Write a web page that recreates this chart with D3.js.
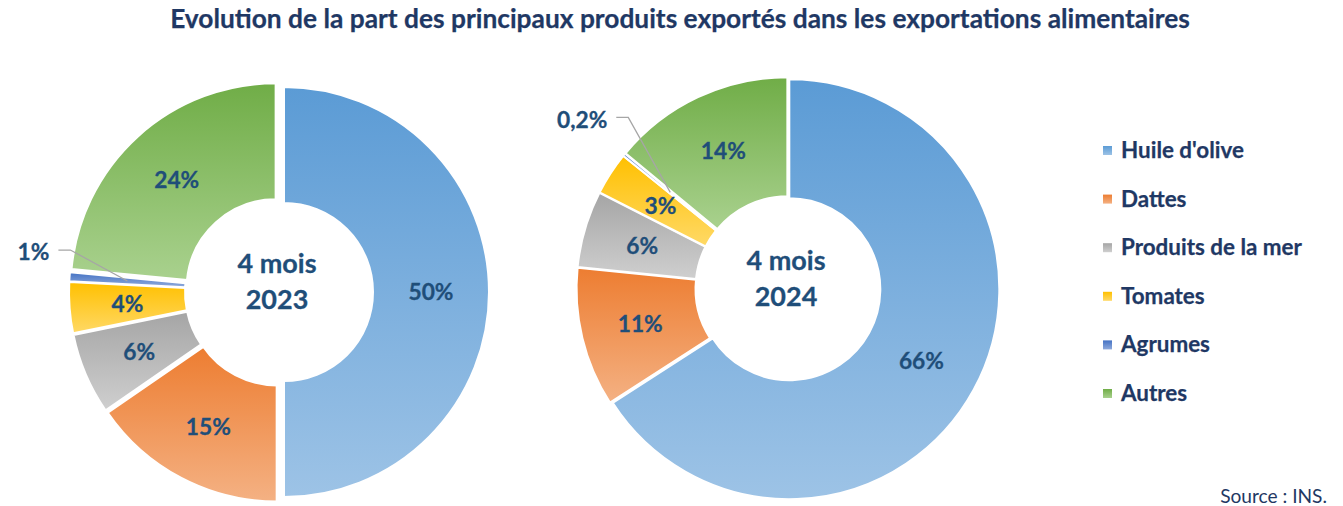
<!DOCTYPE html>
<html><head><meta charset="utf-8">
<script src="https://cdn.jsdelivr.net/npm/d3@7"></script>
<style>
body{margin:0;background:#fff}
svg{display:block}
text{font-family:Lato,"Open Sans","DejaVu Sans",sans-serif}
</style>
</head><body>
<svg id="chart" width="1343" height="506"></svg>
<script>
// ---- data ----
const categories = ["Huile d'olive", "Dattes", "Produits de la mer", "Tomates", "Agrumes", "Autres"];
const values2023 = [50.0, 15.4, 6.4, 4.0, 0.7, 23.5];
const values2024 = [65.9, 10.7, 5.9, 3.3, 0.2, 14.0];
const labels2023 = ["50%", "15%", "6%", "4%", "1%", "24%"];
const labels2024 = ["66%", "11%", "6%", "3%", "0,2%", "14%"];
const periodPrefix = "4 mois";
const years = ["2023", "2024"];
const titleText = "Evolution de la part des principaux produits exportés dans les exportations alimentaires";
const sourceText = "Source : INS.";

// ---- styles ----
const topColors = ["#5B9BD5", "#ED7D31", "#A5A5A5", "#FFC000", "#4472C4", "#70AD47"];
const bottomColors = ["#9DC3E6", "#F4B183", "#CFCFCF", "#FFD966", "#8FAADC", "#A9D18E"];
const labelColor = "#1F4E79";
const titleColor = "#1F3864";
const calloutIndex = 4;

const charts = [
  {values: values2023, labels: labels2023, year: years[0], cx: 279, cy: 292, R: 205, r: 89, explode: 5, callout: {dx: -57, dy: -31}},
  {values: values2024, labels: labels2024, year: years[1], cx: 788, cy: 288.5, R: 210, r: 91, explode: 1.5, callout: {dx: -42, dy: -75}}
];

const svg = d3.select("#chart");
const defs = svg.append("defs");
categories.forEach((c, i) => {
  const g = defs.append("linearGradient").attr("id", "grad" + i)
    .attr("x1", 0).attr("y1", 0).attr("x2", 0).attr("y2", 1);
  g.append("stop").attr("offset", "0%").attr("stop-color", topColors[i]);
  g.append("stop").attr("offset", "100%").attr("stop-color", bottomColors[i]);
});

// measure helper: font size giving a target width
function fitSize(str, weight, target) {
  const t = svg.append("text").attr("font-weight", weight).attr("font-size", 20).text(str);
  const w = t.node().getComputedTextLength();
  t.remove();
  return 20 * target / w;
}
const titleSize = fitSize(titleText, 700, 1020);
const labelSize = fitSize("50%", 700, 45);
const centerSize = fitSize(periodPrefix, 700, 79);
const legendSize = fitSize(categories[2], 700, 181);
const sourceSize = fitSize(sourceText, 400, 107);

// title
svg.append("text")
  .attr("x", 680).attr("y", 28)
  .attr("text-anchor", "middle")
  .attr("font-weight", 700).attr("font-size", titleSize)
  .attr("fill", titleColor).attr("stroke", titleColor).attr("stroke-width", 0.25)
  .text(titleText);

const pie = d3.pie().sort(null).value(d => d).startAngle(0).endAngle(2 * Math.PI);

charts.forEach(ch => {
  const arcs = pie(ch.values);
  const arc = d3.arc().innerRadius(ch.r).outerRadius(ch.R);
  const g = svg.append("g").attr("transform", `translate(${ch.cx},${ch.cy})`);
  const off = a => {
    const m = (a.startAngle + a.endAngle) / 2;
    return [ch.explode * Math.sin(m), -ch.explode * Math.cos(m)];
  };
  g.selectAll("path.slice").data(arcs).join("path")
    .attr("class", "slice")
    .attr("d", arc)
    .attr("transform", a => { const o = off(a); return `translate(${o[0]},${o[1]})`; })
    .attr("fill", (a, i) => `url(#grad${i})`)
    .attr("stroke", "#fff").attr("stroke-width", 2).attr("stroke-linejoin", "miter");

  // labels
  arcs.forEach((a, i) => {
    const o = off(a);
    const c = arc.centroid(a);
    const px = c[0] + o[0], py = c[1] + o[1];
    let t;
    if (i === calloutIndex) {
      const ex = px + ch.callout.dx, ey = py + ch.callout.dy;
      g.append("polyline")
        .attr("points", `${px},${py} ${ex},${ey} ${ex - 12},${ey}`)
        .attr("fill", "none").attr("stroke", "#A6A6A6").attr("stroke-width", 1.3);
      t = g.append("text")
        .attr("x", ex - 21).attr("y", ey + 2)
        .attr("text-anchor", "end");
    } else {
      t = g.append("text")
        .attr("x", px).attr("y", py)
        .attr("text-anchor", "middle");
    }
    t.attr("dy", "0.36em")
      .attr("font-weight", 700).attr("font-size", labelSize)
      .attr("fill", labelColor).attr("stroke", labelColor).attr("stroke-width", 0.3)
      .text(ch.labels[i]);
  });

  // center text
  [periodPrefix, ch.year].forEach((s, k) => {
    g.append("text").attr("x", -2).attr("y", k === 0 ? -19 : 17)
      .attr("text-anchor", "middle").attr("font-weight", 700).attr("font-size", centerSize)
      .attr("fill", labelColor).attr("stroke", labelColor).attr("stroke-width", 0.3)
      .text(s);
  });
});

// legend
const legendY = d3.scalePoint().domain(categories).range([150, 393]);
const lg = svg.append("g");
categories.forEach((c, i) => {
  const y = legendY(c);
  lg.append("rect").attr("x", 1103).attr("y", y - 4).attr("width", 9).attr("height", 9)
    .attr("fill", `url(#grad${i})`);
  lg.append("text").attr("x", 1121).attr("y", y).attr("dy", "0.36em")
    .attr("font-weight", 700).attr("font-size", legendSize)
    .attr("fill", titleColor).attr("stroke", titleColor).attr("stroke-width", 0.25)
    .text(c);
});

svg.append("text").attr("x", 1327).attr("y", 503)
  .attr("text-anchor", "end").attr("font-size", sourceSize).attr("fill", titleColor)
  .text(sourceText);
</script>
</body></html>
